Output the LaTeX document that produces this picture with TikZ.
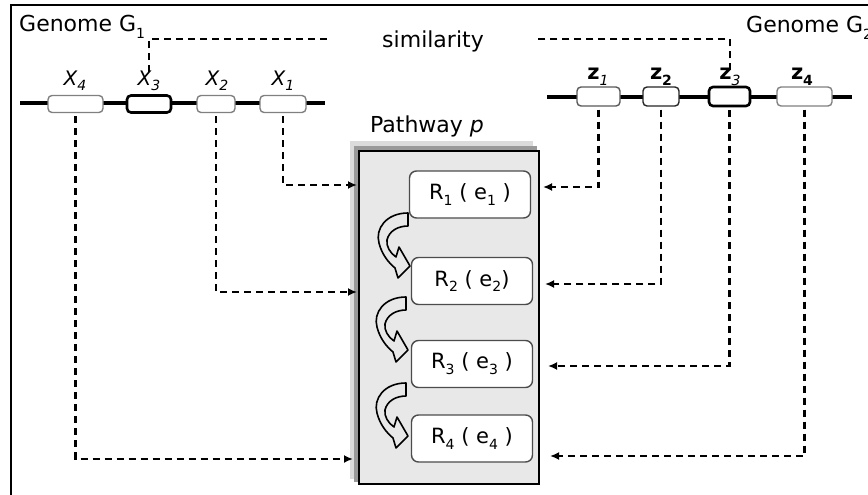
\documentclass[tikz,border=0pt]{standalone}
\usepackage{fontspec}
\setmainfont{DejaVu Sans}
\usetikzlibrary{arrows.meta}
\newcommand\sbs[1]{\raisebox{-0.5ex}{\fontsize{14}{14}\selectfont #1}}
\newcommand\sbi[1]{\raisebox{-0.5ex}{\fontsize{14}{14}\selectfont\itshape\mdseries #1}}
\begin{document}
\begin{tikzpicture}[x=1pt,y=-1pt,
  txt/.style={font=\fontsize{22}{26}\selectfont, inner sep=0pt},
  glab/.style={txt, anchor=base, font=\fontsize{20}{24}\selectfont},
  conn/.style={line width=2.2pt, dash pattern=on 7pt off 5pt, -{Latex[length=9pt,width=8pt]}},
  link/.style={line width=2.2pt, dash pattern=on 7pt off 5pt},
  chrom/.style={line width=4pt},
  gene/.style={draw=gray, line width=1.4pt, fill=white, rounded corners=4pt, minimum height=17pt, inner sep=0pt},
  keygene/.style={gene, draw=black, line width=2.6pt},
  react/.style={draw=gray!60!black, line width=1.4pt, fill=white, rounded corners=7pt, minimum width=121pt, minimum height=47pt, inner sep=0pt, font=\fontsize{21}{24}\selectfont},
  pathbox/.style={draw=black, line width=2.4pt, fill=black!9, minimum width=180pt, minimum height=333pt, inner sep=0pt},
  carrow/.pic={\draw[line width=1.6pt, line join=round]
     (0,0) .. controls (-22,0) and (-33,16) .. (-29,30)
     .. controls (-26,42) and (-19,50) .. (-13,55) -- (-10,65) -- (2,53) -- (-9,34) -- (-12,44)
     .. controls (-18,40) and (-22,33) .. (-21,27) .. controls (-19,18) and (-10,13) .. (0,13) -- cycle;}
]
\useasboundingbox (0,0) rectangle (868,495);
% frame
\draw[line width=2.6pt] (11,497) -- (11,5) -- (870,5);

% titles
\node[txt, anchor=base west] (g1) at (19,32) {Genome G\sbs{1}};
\node[txt, anchor=base west] (g2) at (746,33) {Genome G\sbs{2}};
\node[txt, anchor=base] (sim) at (433,48) {similarity};
\node[txt, anchor=base] (pwt) at (427,132) {Pathway \textit{p}};

% chromosomes
\coordinate (l1) at (20,103); \coordinate (l2) at (325,103);
\coordinate (r1) at (547,97); \coordinate (r2) at (852,97);
\draw[chrom] (l1) -- (l2);
\draw[chrom] (r1) -- (r2);

% genes G1
\node[gene, minimum width=55pt] (x4) at (75.5,104) {};
\node[keygene, minimum width=44pt] (x3) at (149,104) {};
\node[gene, minimum width=38pt] (x2) at (216,104) {};
\node[gene, minimum width=46pt] (x1) at (283,104) {};
\node[glab, font=\fontsize{20}{24}\selectfont\itshape] (lx4) at (75,85) {X\sbi{4}};
\node[glab, font=\fontsize{20}{24}\selectfont\itshape] (lx3) at (149,85) {X\sbi{3}};
\node[glab, font=\fontsize{20}{24}\selectfont\itshape] (lx2) at (217,85) {X\sbi{2}};
\node[glab, font=\fontsize{20}{24}\selectfont\itshape] (lx1) at (283,85) {X\sbi{1}};

% genes G2
\node[gene, draw=gray!70!black, minimum width=43pt, minimum height=19pt] (z1) at (598.5,96.5) {};
\node[gene, draw=black!85, minimum width=36pt, minimum height=19pt] (z2) at (661,96.5) {};
\node[keygene, minimum width=41pt, minimum height=19pt] (z3) at (729.5,96.5) {};
\node[gene, minimum width=55pt, minimum height=19pt] (z4) at (804.5,96.5) {};
\node[glab, font=\fontsize{21}{24}\selectfont\bfseries] (lz1) at (598,80) {z\sbi{1}};
\node[glab, font=\fontsize{21}{24}\selectfont\bfseries] (lz2) at (661,80) {z\sbs{2}};
\node[glab, font=\fontsize{21}{24}\selectfont\bfseries] (lz3) at (730,80) {z\sbi{3}};
\node[glab, font=\fontsize{21}{24}\selectfont\bfseries] (lz4) at (802,80) {z\sbs{4}};

% similarity links
\coordinate (s1) at (330,39);
\coordinate (s2) at (538,39);
\draw[link] ([yshift=-2pt]lx3.north) |- (s1);
\draw[link] ([yshift=-2pt]lz3.north) |- (s2);

% pathway box with shadow
\fill[black!14] (350,141) rectangle (533,479);
\fill[black!40] (354,146) rectangle (537,482);
\node[pathbox] (pw) at (449,317.5) {};

% reactions
\node[react] (R1) at (470,194.5) {R\sbs{1} ( e\sbs{1} )};
\node[react] (R2) at (472,281) {R\sbs{2} ( e\sbs{2})};
\node[react] (R3) at (472,364) {R\sbs{3} ( e\sbs{3} )};
\node[react] (R4) at (472,438.5) {R\sbs{4} ( e\sbs{4} )};

% curved arrows
\pic at (408,213) {carrow};
\pic at (406,297) {carrow};
\pic at (406,383) {carrow};

% mapping connectors
\coordinate (a1) at (357,185);
\coordinate (a2) at (357,292);
\coordinate (a4) at (353,459);
\coordinate (b1) at (543,187);
\coordinate (b2) at (545,284);
\coordinate (b3) at (548,366);
\coordinate (b4) at (550,456);
\draw[conn, shorten <=3pt] (x1.south) |- (a1);
\draw[conn, shorten <=3pt] (x2.south) |- (a2);
\draw[conn, shorten <=3pt] (x4.south) |- (a4);
\draw[conn, shorten <=3pt] (z1.south) |- (b1);
\draw[conn, shorten <=3pt] (z2.south) |- (b2);
\draw[conn, shorten <=3pt] (z3.south) |- (b3);
\draw[conn, shorten <=3pt] (z4.south) |- (b4);
\end{tikzpicture}
\end{document}
